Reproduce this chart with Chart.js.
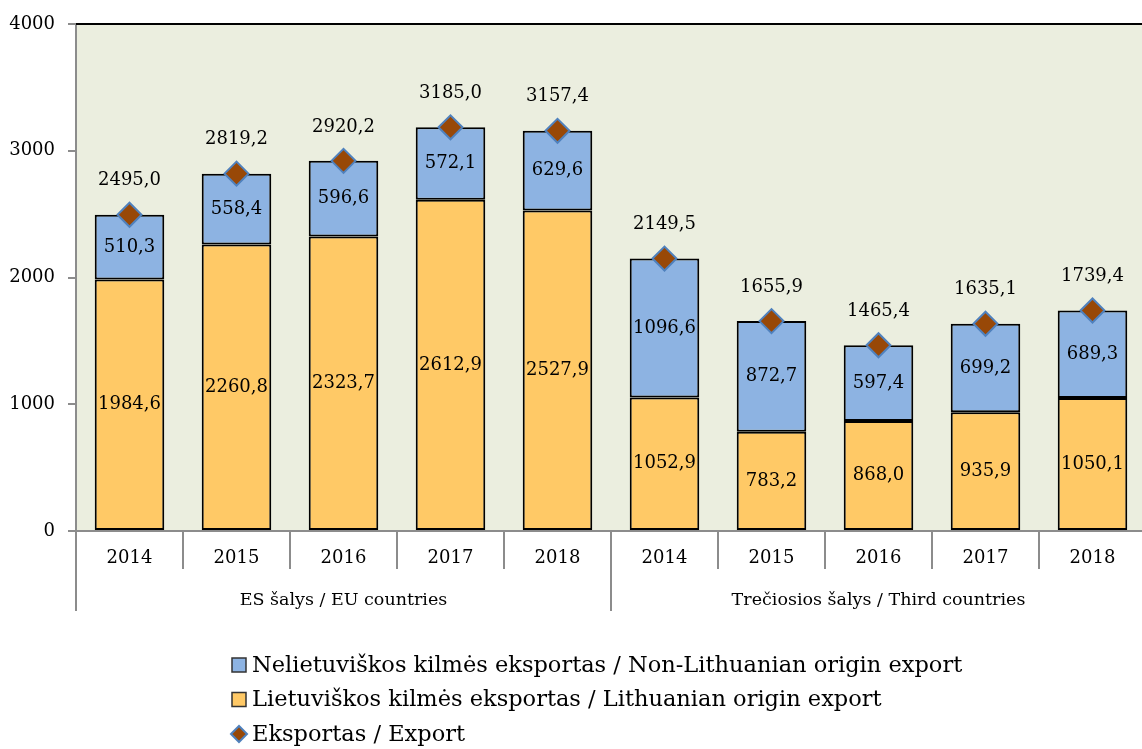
<!DOCTYPE html>
<html>
<head>
<meta charset="utf-8">
<script src="https://cdn.jsdelivr.net/npm/chart.js@4"></script>
<style>
  html, body { margin: 0; padding: 0; overflow: hidden; background: #fff; }
  #wrap { width: 1160px; height: 749px; }
</style>
</head>
<body>
<div id="wrap"><canvas id="canvas" width="1160" height="749"></canvas></div>
<script>
// data
var years = ["2014", "2015", "2016", "2017", "2018", "2014", "2015", "2016", "2017", "2018"];
var groups = ["ES šalys / EU countries", "Trečiosios šalys / Third countries"];
var ltOrigin = [1984.6, 2260.8, 2323.7, 2612.9, 2527.9, 1052.9, 783.2, 868.0, 935.9, 1050.1];
var nonLtOrigin = [510.3, 558.4, 596.6, 572.1, 629.6, 1096.6, 872.7, 597.4, 699.2, 689.3];
var exportTotal = [2495.0, 2819.2, 2920.2, 3185.0, 3157.4, 2149.5, 1655.9, 1465.4, 1635.1, 1739.4];
var yTicks = [0, 1000, 2000, 3000, 4000];

var FONT = "'DejaVu Serif', serif";
var ORANGE = "#FFC966";
var BLUE = "#8DB3E2";
var BROWN = "#984807";
var DIAMOND_EDGE = "#4F81BD";
var AXIS = "#8C8C8C";

function fmt(v) {
  return v.toFixed(1).replace(".", ",");
}

// plot background + frame + category separators + group labels + value labels + legend
var decor = {
  id: "decor",
  beforeDraw: function (chart) {
    var a = chart.chartArea, ctx = chart.ctx;
    ctx.save();
    ctx.fillStyle = "#EBEEDF";
    ctx.fillRect(a.left, a.top, a.right - a.left, a.bottom - a.top);
    ctx.restore();
  },
  afterDatasetsDraw: function (chart) {
    var ctx = chart.ctx;
    var n = years.length;
    ctx.save();
    ctx.fillStyle = "#000";
    ctx.textAlign = "center";
    ctx.textBaseline = "middle";
    ctx.font = "18px " + FONT;
    var mOr = chart.getDatasetMeta(0).data;
    var mBl = chart.getDatasetMeta(1).data;
    var mTot = chart.getDatasetMeta(2).data;
    for (var k = 0; k < n; k++) {
      var o = mOr[k], b = mBl[k], t = mTot[k];
      ctx.fillText(fmt(ltOrigin[k]), o.x, (o.y + o.base) / 2);
      ctx.fillText(fmt(nonLtOrigin[k]), b.x, (b.y + b.base) / 2);
      ctx.fillText(fmt(exportTotal[k]), t.x, t.y - 34);
    }
    ctx.restore();
  },
  afterDraw: function (chart) {
    var a = chart.chartArea, ctx = chart.ctx;
    var x = chart.scales.x;
    var n = years.length;
    var cw = (x.right - x.left) / n;
    ctx.save();

    // top frame line
    ctx.strokeStyle = "#000";
    ctx.lineWidth = 2;
    ctx.beginPath();
    ctx.moveTo(a.left, a.top);
    ctx.lineTo(a.right, a.top);
    ctx.stroke();

    // separators under the x axis
    ctx.strokeStyle = AXIS;
    ctx.lineWidth = 2;
    for (var i = 0; i <= n; i++) {
      var px = Math.round(x.left + i * cw);
      var len = (i % 5 === 0) ? 80 : 38;
      ctx.beginPath();
      ctx.moveTo(px, a.bottom);
      ctx.lineTo(px, a.bottom + len);
      ctx.stroke();
    }

    // group labels
    ctx.fillStyle = "#000";
    ctx.font = "17.5px " + FONT;
    ctx.textAlign = "center";
    ctx.textBaseline = "middle";
    for (var g = 0; g < groups.length; g++) {
      var cx = x.left + (g * 5 + 2.5) * cw;
      ctx.fillText(groups[g], cx, a.bottom + 69);
    }

    // legend
    var items = [
      { text: chart.data.datasets[1].label, kind: "box", color: BLUE },
      { text: chart.data.datasets[0].label, kind: "box", color: ORANGE },
      { text: chart.data.datasets[2].label, kind: "diamond" }
    ];
    var lx = 239, ly = 665;
    ctx.font = "22.5px " + FONT;
    ctx.textAlign = "left";
    for (var j = 0; j < items.length; j++) {
      var it = items[j];
      var yy = ly + j * 34.5;
      if (it.kind === "box") {
        ctx.fillStyle = it.color;
        ctx.fillRect(lx - 7, yy - 7, 14, 14);
        ctx.strokeStyle = "#333";
        ctx.lineWidth = 1.5;
        ctx.strokeRect(lx - 7, yy - 7, 14, 14);
      } else {
        ctx.beginPath();
        ctx.moveTo(lx - 8, yy);
        ctx.lineTo(lx, yy - 8);
        ctx.lineTo(lx + 8, yy);
        ctx.lineTo(lx, yy + 8);
        ctx.closePath();
        ctx.fillStyle = BROWN;
        ctx.fill();
        ctx.strokeStyle = DIAMOND_EDGE;
        ctx.lineWidth = 2;
        ctx.stroke();
      }
      ctx.fillStyle = "#000";
      ctx.fillText(it.text, lx + 13, yy + 1);
    }
    ctx.restore();
  }
};

var ctx = document.getElementById("canvas").getContext("2d");
var myChart = new Chart(ctx, {
  type: "bar",
  data: {
    labels: years,
    datasets: [
      {
        label: "Lietuviškos kilmės eksportas / Lithuanian origin export",
        data: ltOrigin,
        backgroundColor: ORANGE,
        borderColor: "#000",
        borderWidth: 2,
        borderSkipped: false,
        stack: "bars",
        order: 2,
        barPercentage: 0.65,
        categoryPercentage: 1,
      },
      {
        label: "Nelietuviškos kilmės eksportas / Non-Lithuanian origin export",
        data: nonLtOrigin,
        backgroundColor: BLUE,
        borderColor: "#000",
        borderWidth: 2,
        borderSkipped: false,
        stack: "bars",
        order: 2,
        barPercentage: 0.65,
        categoryPercentage: 1,
      },
      {
        type: "line",
        label: "Eksportas / Export",
        data: exportTotal,
        stack: "total",
        order: 0,
        clip: false,
        showLine: false,
        pointStyle: "rectRot",
        pointRadius: 12,
        pointBackgroundColor: BROWN,
        pointBorderColor: DIAMOND_EDGE,
        pointBorderWidth: 2,
      },
    ],
  },
  options: {
    responsive: false,
    animation: false,
    events: [],
    layout: {
      padding: { top: 24, right: 4, bottom: 0, left: 0 },
    },
    plugins: {
      legend: { display: false },
      tooltip: { enabled: false },
    },
    scales: {
      x: {
        stacked: true,
        afterFit: function (scale) { scale.height = 218; },
        ticks: {
          color: "#000",
          font: { family: FONT, size: 18 },
          padding: 17,
          maxRotation: 0,
          autoSkip: false,
        },
        grid: { display: true, drawOnChartArea: false, drawTicks: false, color: AXIS },
        border: { display: true, color: AXIS, width: 2 },
      },
      y: {
        stacked: true,
        min: 0,
        max: 4000,
        afterFit: function (scale) { scale.width = 76; },
        afterBuildTicks: function (scale) {
          scale.ticks = yTicks.map(function (v) { return { value: v }; });
        },
        ticks: {
          color: "#000",
          font: { family: FONT, size: 18 },
          padding: 13,
          callback: function (v) { return String(v); },
        },
        grid: { display: true, drawOnChartArea: false, tickLength: 8, color: AXIS, lineWidth: 2 },
        border: { display: true, color: AXIS, width: 2 },
      },
    },
  },
  plugins: [decor],
});
</script>
</body>
</html>
